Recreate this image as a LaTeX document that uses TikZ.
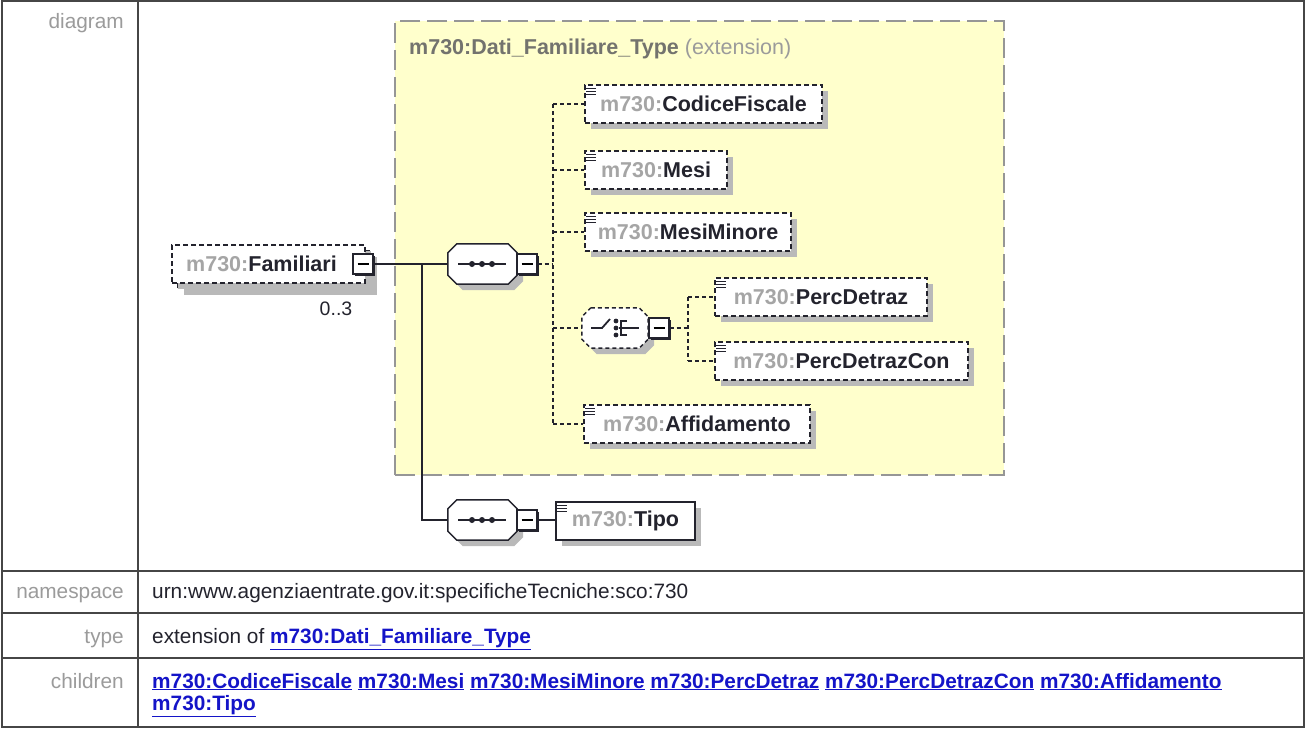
\documentclass[tikz,border=0pt]{standalone}
\usepackage{fontspec}
\setmainfont{Liberation Sans}
\usetikzlibrary{shadows}
\definecolor{ylw}{RGB}{255,255,204}
\definecolor{ylwborder}{RGB}{150,150,150}
\definecolor{lbl}{RGB}{155,155,155}
\definecolor{txt}{RGB}{35,35,45}
\definecolor{pfx}{RGB}{165,165,165}
\definecolor{lnk}{RGB}{20,20,200}
\definecolor{shd}{RGB}{185,185,185}
\definecolor{tbl}{RGB}{70,70,70}
\definecolor{hdr}{RGB}{115,115,110}
\newcommand{\pf}[1]{{\color{pfx}m730:}{\color{txt}#1}}
\newcommand{\lk}[1]{\underline{m730:#1}}
\newcommand{\myocta}[2]{\path[#2] ([xshift=9pt]#1.north west) -- ([xshift=-9pt]#1.north east) -- ([yshift=-9pt]#1.north east) -- ([yshift=9pt]#1.south east) -- ([xshift=-9pt]#1.south east) -- ([xshift=9pt]#1.south west) -- ([yshift=9pt]#1.south west) -- ([yshift=-9pt]#1.north west) -- cycle;}
\begin{document}
\begin{tikzpicture}[x=1pt,y=-1pt,
  elem/.style={draw=txt, line width=1.5pt, dash pattern=on 5pt off 3pt, fill=white,
    minimum height=38pt, inner sep=0pt, font=\fontsize{21.5}{24}\selectfont\bfseries,
    drop shadow={shadow xshift=6pt, shadow yshift=-6pt, fill=shd, opacity=1}},
  elemsolid/.style={elem, solid},
  compo/.style={draw=none, minimum width=69pt, minimum height=40pt, inner sep=0pt},
  octstyle/.style={draw=txt, line width=1.5pt, fill=white,
    drop shadow={shadow xshift=6pt, shadow yshift=-6pt, fill=shd, opacity=1}},
  cbox/.style={draw=txt, line width=1.3pt, fill=white, minimum size=20pt, inner sep=0pt,
    drop shadow={shadow xshift=2pt, shadow yshift=-2pt, fill=txt, opacity=1}},
  conn/.style={draw=txt, line width=1.3pt},
  dconn/.style={draw=txt, line width=1.3pt, dash pattern=on 4pt off 3pt},
  tline/.style={draw=tbl, line width=1.6pt},
  lblst/.style={text=lbl, font=\fontsize{20.8}{24}\selectfont, inner sep=0pt},
  valst/.style={text=txt, font=\fontsize{20.8}{24}\selectfont, inner sep=0pt},
  lnkst/.style={text=lnk, font=\fontsize{20.8}{24}\selectfont\bfseries, inner sep=0pt},
]
\useasboundingbox (0,0) rectangle (1306,729);
\fill[white] (0,0) rectangle (1306,729);
% table
\coordinate (tl) at (2,1);
\coordinate (br) at (1304,727);
\draw[tline] (tl) rectangle (br);
\draw[tline] (138,1) -- (138,727);
\draw[tline] (2,571) -- (1304,571);
\draw[tline] (2,613) -- (1304,613);
\draw[tline] (2,658) -- (1304,658);
\node[lblst, anchor=base east] (ldiag) at (124,28) {diagram};
\node[lblst, anchor=base east] (lns) at (124,598) {namespace};
\node[lblst, anchor=base east] (ltype) at (124,643) {type};
\node[lblst, anchor=base east] (lch) at (124,688) {children};
\node[valst, anchor=base west] (vns) at (152,598) {urn:www.agenziaentrate.gov.it:specificheTecniche:sco:730};
\node[valst, anchor=base west] (vtype) at (152,643) {extension of {\color{lnk}\bfseries\underline{m730:Dati\_Familiare\_Type}}};
\node[lnkst, anchor=base west] (vch1) at (152,688) {\lk{CodiceFiscale} \lk{Mesi} \lk{MesiMinore} \lk{PercDetraz} \lk{PercDetrazCon} \lk{Affidamento}};
\node[lnkst, anchor=base west] (vch2) at (152,710) {\lk{Tipo}};
% extension box
\node[draw=ylwborder, fill=ylw, line width=1.6pt, dash pattern=on 20pt off 7pt,
  minimum width=609pt, minimum height=454pt, inner sep=0pt] (ext) at (699.5,248) {};
\node[anchor=base west, inner sep=0pt, font=\fontsize{21.5}{24}\selectfont] (hd) at (409,54)
  {{\bfseries\color{hdr}m730:Dati\_Familiare\_Type} {\color{lbl}(extension)}};
% Familiari
\node[elem, minimum width=193pt] (famB) at (274,269.5) {};
\node[elem, minimum width=193pt, drop shadow={opacity=0}] (fam) at (268.5,264) {\pf{Familiari}\hspace*{14pt}};
\node[cbox] (fc) at (363,264) {\rule{11pt}{1.5pt}};
\node[valst, font=\fontsize{19.5}{22}\selectfont] (occ) at (336,309) {0..3};
% sequence 1
\node[compo] (s1) at (482.5,264) {};
\myocta{s1}{octstyle}
\draw[conn, line width=1.8pt] (458,264) -- (506,264);
\foreach \xx in {472,482,492} \fill[txt] (\xx,264) circle (3pt);
\node[cbox] (c1) at (527,264) {\rule{11pt}{1.5pt}};
% sequence 2
\node[compo] (s2) at (482.5,520) {};
\myocta{s2}{octstyle}
\draw[conn, line width=1.8pt] (458,520) -- (506,520);
\foreach \xx in {472,482,492} \fill[txt] (\xx,520) circle (3pt);
\node[cbox] (c2) at (527,520) {\rule{11pt}{1.5pt}};
% elements
\node[elem, minimum width=237pt] (cf) at (703.5,104) {\pf{CodiceFiscale}};
\node[elem, minimum width=142pt] (me) at (656,170) {\pf{Mesi}};
\node[elem, minimum width=206pt] (mm) at (688,232) {\pf{MesiMinore}};
\node[elem, minimum width=212pt] (pd) at (821,297) {\pf{PercDetraz}};
\node[elem, minimum width=253pt] (pdc) at (841.5,361) {\pf{PercDetrazCon}};
\node[elem, minimum width=226pt] (af) at (697,424) {\pf{Affidamento}};
\node[elemsolid, minimum width=139pt] (tp) at (625.5,521) {\pf{Tipo}};
\foreach \nn in {cf,me,mm,pd,pdc,af,tp}
  \foreach \dd in {4,7,10}
    \draw[txt, line width=1.4pt] ([xshift=2pt,yshift=-\dd pt]\nn.north west) -- ++(10,0);
% choice
\node[compo, minimum width=66pt] (ch) at (615,328) {};
\myocta{ch}{octstyle, dash pattern=on 4pt off 3pt}
\draw[conn, line width=1.8pt] (591,328) -- (602,328) -- (610,319);
\foreach \yy in {321,328,335} \fill[txt] (616,\yy) circle (2.4pt);
\draw[conn, line width=1.8pt] (627,321) -- (621,321) -- (621,335) -- (627,335);
\draw[conn, line width=1.8pt] (619,328) -- (639,328);
\node[cbox] (cc) at (659,328) {\rule{11pt}{1.5pt}};
% connectors
\coordinate (fork) at (422,264);
\draw[conn] (fc.east) -- (s1.west);
\draw[conn] (fork) |- (s2.west);
\draw[conn] (c2.east) -- (tp.west |- c2.east);
\coordinate (v1) at (553,264);
\draw[dconn] (c1.east) -- (v1);
\draw[dconn] (v1 |- cf.west) -- (v1 |- af.west);
\foreach \nn in {cf,me,mm,ch,af} \draw[dconn] (v1 |- \nn.west) -- (\nn.west);
\coordinate (v2) at (688,328);
\draw[dconn] (cc.east) -- (v2);
\draw[dconn] (v2 |- pd.west) -- (v2 |- pdc.west);
\foreach \nn in {pd,pdc} \draw[dconn] (v2 |- \nn.west) -- (\nn.west);
\end{tikzpicture}
\end{document}
